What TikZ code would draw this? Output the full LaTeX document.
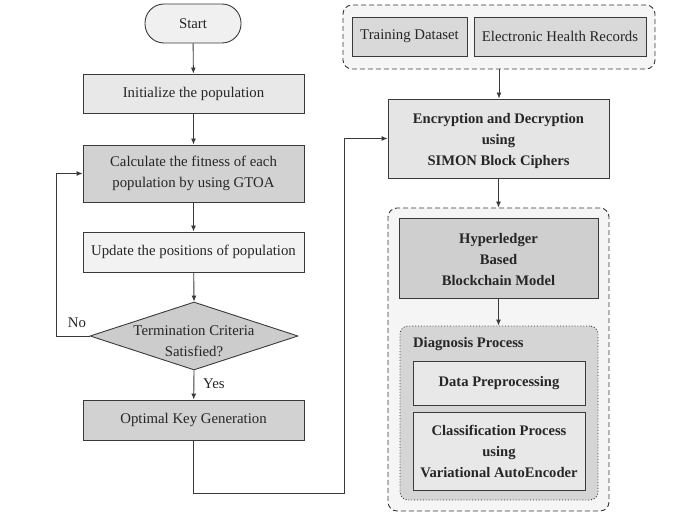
\documentclass[tikz,border=0pt]{standalone}
\usepackage{fontspec}
\setmainfont{Liberation Serif}
\usetikzlibrary{shapes.geometric,arrows.meta}
\definecolor{ln}{HTML}{3A3A3A}
\definecolor{tx}{HTML}{262626}
\tikzset{
  box/.style={draw=ln, line width=0.9pt, inner sep=0pt, align=center, text=tx, font=\fontsize{14.8}{20.5}\selectfont},
  bbox/.style={box, font=\bfseries\fontsize{14.6}{21}\selectfont},
  grp/.style={draw=ln, line width=0.9pt, dash pattern=on 5pt off 3pt, rounded corners=9pt, fill=gray!8, inner sep=0pt},
  arr/.style={draw=ln, line width=0.9pt, -{Latex[length=6pt,width=5pt]}},
  lbl/.style={text=tx, font=\fontsize{14.8}{20.5}\selectfont, inner sep=0pt}
}
\begin{document}
\begin{tikzpicture}[x=1pt,y=-1pt]
\useasboundingbox (0,0) rectangle (682,521);
% left column
\node[box, fill=gray!12, rounded corners=19pt, minimum width=96pt, minimum height=39pt] (start) at (193,23.5) {Start};
\node[box, fill=gray!18, minimum width=221pt, minimum height=39pt] (init) at (193.5,93.5) {Initialize the population};
\node[box, fill=gray!35, minimum width=221pt, minimum height=57pt] (calc) at (193.5,173.5) {Calculate the fitness of each\\population by using GTOA};
\node[box, fill=gray!10, minimum width=221pt, minimum height=40pt] (upd) at (193.5,252) {Update the positions of population};
\node[box, diamond, fill=gray!40, minimum width=208pt, minimum height=68pt] (dec) at (194,336) {};
\node[lbl, align=center] (dectext) at (194,341) {Termination Criteria\\Satisfied?};
\node[box, fill=gray!35, minimum width=221pt, minimum height=40pt] (opt) at (193.5,420) {Optimal Key Generation};
\node[lbl, anchor=west] (yes) at (203,384) {Yes};
\node[lbl] (no) at (77,323) {No};
\coordinate (cno) at (56,336);
\coordinate (cbot) at (344,493);
% right column
\node[grp, minimum width=312pt, minimum height=64pt] (g1) at (499,37) {};
\node[box, fill=gray!30, minimum width=115pt, minimum height=39pt] (td) at (409.5,36.5) {Training Dataset};
\node[box, fill=gray!30, minimum width=172pt, minimum height=39pt] (ehr) at (560,36.5) {Electronic Health Records};
\node[box, fill=gray!20, minimum width=221pt, minimum height=79pt] (enc) at (498.5,138.5) {};
\node[lbl, align=center, font=\bfseries\fontsize{14.6}{21}\selectfont] (enctext) at (498.5,141) {Encryption and Decryption\\using\\SIMON Block Ciphers};
\node[grp, minimum width=221pt, minimum height=303pt] (g2) at (498.5,359.5) {};
\node[box, fill=gray!38, minimum width=199pt, minimum height=80pt] (hyp) at (498.5,258) {};
\node[lbl, align=center, font=\bfseries\fontsize{14.6}{21}\selectfont] (hyptext) at (498.5,260) {Hyperledger\\Based\\Blockchain Model};
\node[draw=ln, line width=0.9pt, dotted, rounded corners=8pt, fill=gray!33, inner sep=0pt, minimum width=198pt, minimum height=174pt] (diag) at (499,413) {};
\node[lbl, font=\bfseries\fontsize{14.6}{20.5}\selectfont, anchor=west] (diaglbl) at (413,344) {Diagnosis Process};
\node[bbox, fill=gray!18, minimum width=172pt, minimum height=44pt] (dp) at (499,383) {Data Preprocessing};
\node[bbox, fill=gray!18, minimum width=172pt, minimum height=78pt] (cls) at (499,451) {Classification Process\\using\\Variational AutoEncoder};
% connectors
\draw[arr] (start) -- (init);
\draw[arr] (init) -- (calc);
\draw[arr] (calc) -- (upd);
\draw[arr] (upd) -- (dec.north);
\draw[arr] (dec.south) -- (opt);
\draw[arr] (dec.west) -- (cno) |- (calc.west);
\draw[arr] (opt.south) |- (cbot) |- (enc.west);
\draw[arr] (g1.south) -- (g1.south |- enc.north);
\draw[arr] (enc.south) -- (enc.south |- g2.north);
\draw[arr] (hyp.south) -- (hyp.south |- diag.north);
\end{tikzpicture}
\end{document}
